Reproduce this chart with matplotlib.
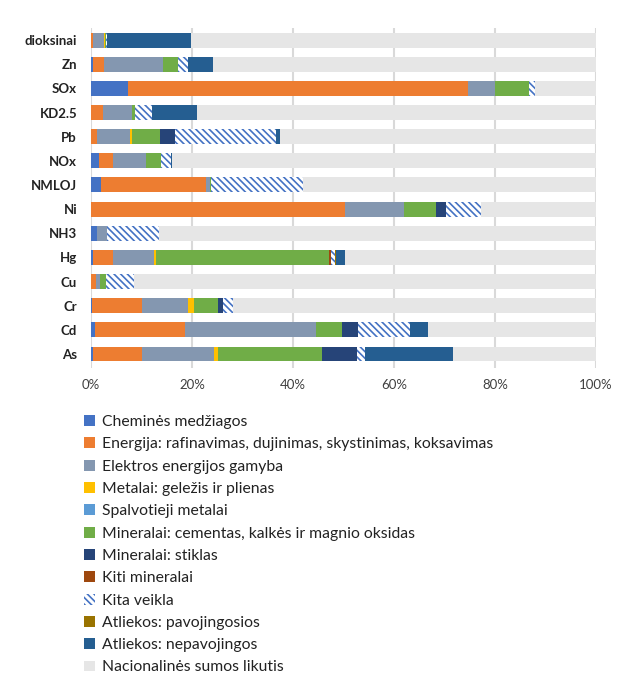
import matplotlib
matplotlib.use("Agg")
import matplotlib.pyplot as plt
import numpy as np
from matplotlib.patches import Patch

plt.rcParams['font.family'] = ['Lato', 'DejaVu Sans']
plt.rcParams['hatch.linewidth'] = 1.2

categories = ["As", "Cd", "Cr", "Cu", "Hg", "NH3", "Ni", "NMLOJ", "NOx", "Pb", "KD2.5", "SOx", "Zn", "dioksinai"]

series_names = [
    "Cheminės medžiagos",
    "Energija: rafinavimas, dujinimas, skystinimas, koksavimas",
    "Elektros energijos gamyba",
    "Metalai: geležis ir plienas",
    "Spalvotieji metalai",
    "Mineralai: cementas, kalkės ir magnio oksidas",
    "Mineralai: stiklas",
    "Kiti mineralai",
    "Kita veikla",
    "Atliekos: pavojingosios",
    "Atliekos: nepavojingos",
    "Nacionalinės sumos likutis",
]

#                      As    Cd    Cr   Cu   Hg   NH3  Ni    NMLOJ NOx  Pb    KD2.5 SOx   Zn    dioksinai
chemines      = [0.33, 0.85, 0.2, 0.0, 0.3, 1.2, 0.0, 1.9, 1.65, 0.0, 0.0, 7.3, 0.4, 0.0]
energija      = [9.8, 17.85, 9.9, 1.0, 4.1, 0.0, 50.3, 20.8, 2.65, 1.25, 2.3, 67.3, 2.2, 0.3]
elektros      = [14.3, 25.8, 9.2, 0.85, 8.1, 2.0, 11.7, 0.9, 6.5, 6.45, 5.9, 5.4, 11.7, 2.3]
metalai       = [0.7, 0.0, 1.0, 0.0, 0.4, 0.0, 0.0, 0.0, 0.0, 0.4, 0.0, 0.0, 0.0, 0.15]
spalvotieji   = [0.0, 0.0, 0.0, 0.0, 0.0, 0.0, 0.0, 0.0, 0.0, 0.0, 0.0, 0.0, 0.0, 0.0]
cementas      = [20.6, 5.3, 4.8, 1.15, 34.3, 0.0, 6.3, 0.2, 3.1, 5.5, 0.6, 6.8, 2.9, 0.2]
stiklas       = [7.0, 3.1, 1.0, 0.0, 0.0, 0.0, 1.9, 0.0, 0.0, 3.0, 0.0, 0.0, 0.0, 0.0]
kiti_mineral  = [0.0, 0.0, 0.0, 0.0, 0.3, 0.0, 0.0, 0.0, 0.0, 0.0, 0.0, 0.0, 0.0, 0.0]
kita_veikla   = [1.5, 10.3, 2.1, 5.6, 0.8, 10.3, 7.1, 18.1, 1.9, 20.0, 3.2, 1.1, 2.1, 0.2]
pavojingosios = [0.0, 0.0, 0.0, 0.0, 0.2, 0.0, 0.0, 0.0, 0.0, 0.0, 0.0, 0.0, 0.0, 0.1]
nepavojingos  = [17.4, 3.6, 0.0, 0.0, 1.8, 0.0, 0.0, 0.0, 0.3, 0.8, 9.0, 0.0, 4.9, 16.6]

parts = [chemines, energija, elektros, metalai, spalvotieji, cementas, stiklas,
         kiti_mineral, kita_veikla, pavojingosios, nepavojingos]
likutis = list(100 - np.sum(np.array(parts), axis=0))
series = parts + [likutis]

colors = ["#4472C4", "#ED7D31", "#8497B0", "#FFC000", "#5B9BD5", "#70AD47",
          "#264478", "#9E480E", "#FFFFFF", "#997300", "#255E91", "#E6E6E6"]
hatch_idx = 8
hatch_pat = "\\" * 5

fig = plt.figure(figsize=(6.28, 6.77), dpi=100)
ax = fig.add_axes([91/628, 1-368/677, 505/628, 340/677])

y = np.arange(len(categories))
left = np.zeros(len(categories))
handles = []
for i, (name, vals) in enumerate(zip(series_names, series)):
    vals = np.array(vals, dtype=float)
    if i == hatch_idx:
        ax.barh(y, vals, left=left, height=0.62, color="white", edgecolor="#4472C4",
                hatch=hatch_pat, linewidth=0, zorder=3)
        handles.append(Patch(facecolor="white", edgecolor="#4472C4", hatch=hatch_pat, linewidth=0, label=name))
    else:
        ax.barh(y, vals, left=left, height=0.62, color=colors[i], linewidth=0, zorder=3)
        handles.append(Patch(facecolor=colors[i], linewidth=0, label=name))
    left += vals

ax.set_xlim(0, 100)
ax.set_ylim(-0.58, 13.5)
ax.set_yticks(y)
ax.set_yticklabels(categories, fontweight="bold", fontsize=9.5, color="#222222")
ticks = [0, 20, 40, 60, 80, 100]
ax.set_xticks(ticks)
ax.set_xticklabels([f"{t}%" for t in ticks], fontsize=9.5, color="#404040")
ax.tick_params(axis="both", length=0)
ax.tick_params(axis="y", pad=10)
ax.tick_params(axis="x", pad=8)
ax.grid(axis="x", color="#D9D9D9", linewidth=1.5, zorder=0)
ax.set_axisbelow(True)
for s in ax.spines.values():
    s.set_visible(False)

fig.legend(handles=handles, loc="upper left", bbox_to_anchor=(84/628, 1-415/677),
           frameon=False, fontsize=11.3, handlelength=0.7, handleheight=0.7,
           handletextpad=0.45, labelspacing=0.53, borderaxespad=0, borderpad=0,
           labelcolor="#222222")

fig.savefig("out.png", dpi=100)
